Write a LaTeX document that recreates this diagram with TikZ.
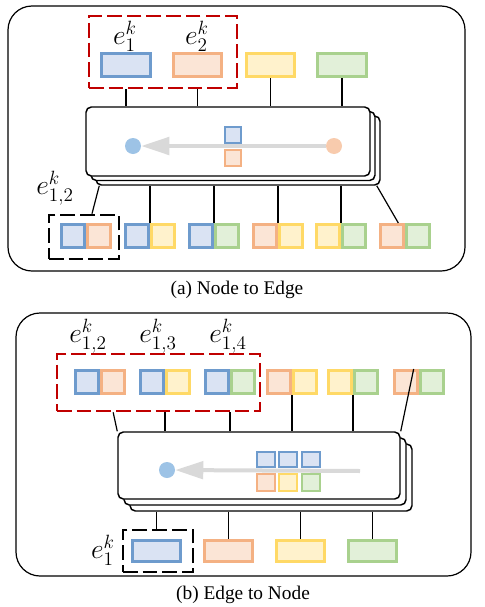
\documentclass[tikz,border=0pt]{standalone}
\usepackage{fontspec}
\setmainfont{Liberation Serif}
\usetikzlibrary{arrows.meta,calc}
\definecolor{bbd}{HTML}{6E9BCD}\definecolor{bfl}{HTML}{DAE3F3}
\definecolor{obd}{HTML}{F4B183}\definecolor{ofl}{HTML}{FBE5D6}
\definecolor{ybd}{HTML}{FFD966}\definecolor{yfl}{HTML}{FFF2CC}
\definecolor{gbd}{HTML}{A9D18E}\definecolor{gfl}{HTML}{E2F0D9}
\definecolor{dred}{HTML}{C00000}
\definecolor{dotb}{HTML}{9DC3E6}\definecolor{doto}{HTML}{F8CBAD}
\definecolor{arrg}{HTML}{D9D9D9}
\tikzset{
 cbox/.style={draw=#1bd, fill=#1fl, line width=2.1pt, inner sep=0pt},
 wide/.style={cbox=#1, minimum width=36.2pt, minimum height=17.4pt},
 sq/.style={cbox=#1, minimum width=17.4pt, minimum height=17.4pt},
 ssq/.style={draw=#1bd, fill=#1fl, line width=1.6pt, inner sep=0pt, minimum width=12.4pt, minimum height=11.6pt},
 modbox/.style={draw, line width=1.1pt, rounded corners=4pt, fill=white, inner sep=0pt},
 frame/.style={draw, line width=0.9pt, rounded corners=18pt},
 reddash/.style={draw=dred, line width=2pt, dash pattern=on 11pt off 3.8pt, inner sep=0pt},
 blkdash/.style={draw=black, line width=2pt, dash pattern=on 11pt off 3.8pt, inner sep=0pt},
 conn/.style={draw, line width=0.9pt},
 dot/.style={circle, fill=#1, inner sep=0pt, minimum size=12pt},
 garrow/.style={draw=arrg, line width=3pt, -{Triangle[length=21pt, width=13pt]}},
 lab/.style={font=\fontsize{20}{24}\selectfont, inner sep=0pt},
 captext/.style={font=\fontsize{14.5}{17}\selectfont, inner sep=0pt},
}
\begin{document}
\begin{tikzpicture}[x=0.75pt,y=-0.75pt]
\useasboundingbox (0,0) rectangle (485,607);
%% ---------------- (a) Node to Edge ----------------
\draw[frame] (8,6) rectangle (465,271);
\node[reddash, minimum width=111pt, minimum height=54pt] (rA) at (163,52) {};
\node[lab] (lA1) at (125,36) {$e_1^k$};
\node[lab] (lA2) at (197,36) {$e_2^k$};
\node[wide=b] (tA1) at (126,65) {};
\node[wide=o] (tA2) at (197.5,65) {};
\node[wide=y] (tA3) at (270.5,65) {};
\node[wide=g] (tA4) at (342,65) {};
% module stack
\node[modbox, minimum width=213pt, minimum height=51.75pt] (mA2) at (238,150.5) {};
\node[modbox, minimum width=213pt, minimum height=51.75pt] (mA1) at (233,146) {};
\node[modbox, minimum width=213pt, minimum height=51.75pt] (mA) at (228,141.5) {};
\draw[conn] (tA1.south |- rA.south) -- (tA1.south |- mA.north);
\draw[conn] (tA2.south |- rA.south) -- (tA2.south |- mA.north);
\draw[conn] (tA3.south) -- (tA3.south |- mA.north);
\draw[conn] (tA4.south) -- (tA4.south |- mA.north);
\node[dot=dotb] (bA) at (133,146) {};
\node[dot=doto] (oA) at (334,146) {};
\draw[garrow] (oA.west) -- (bA);
\node[ssq=b] (sA1) at (233,135) {};
\node[ssq=o] (sA2) at (233,158) {};
% edge pairs
\foreach \i/\s/\l/\r in {1/60/b/o,2/124/b/y,3/188/b/g,4/252/o/y,5/315/y/g,6/379/o/g}{
  \node[sq=\l] (pA\i l) at (\s+13,236) {};
  \node[sq=\r] (pA\i r) at (\s+39,236) {};
  \coordinate (jA\i) at (\s+26,222.5);
}
\node[blkdash, minimum width=52.5pt, minimum height=33pt] (kA) at (84,237) {};
\node[lab] (lA3) at (55,188) {$e_{1,2}^k$};
\draw[conn] ([xshift=3pt]mA2.south west) -- ([xshift=6pt]kA.north);
\foreach \i in {2,3,4,5}{\draw[conn] (jA\i) -- (jA\i |- mA2.south);}
\draw[conn] ([xshift=-3pt]mA2.south east) -- ([xshift=-5pt]pA6l.north east);
\node[captext] (cA) at (237,290) {(a) Node to Edge};
%% ---------------- (b) Edge to Node ----------------
\draw[frame] (16,313) rectangle (471,576);
\node[reddash, minimum width=152.25pt, minimum height=42.75pt] (rB) at (158.5,382.5) {};
\node[lab] (lB1) at (88,336) {$e_{1,2}^k$};
\node[lab] (lB2) at (158,336) {$e_{1,3}^k$};
\node[lab] (lB3) at (228,336) {$e_{1,4}^k$};
\foreach \i/\s/\l/\r in {1/74/b/o,2/139/b/y,3/204/b/g,4/266/o/y,5/327/y/g,6/393/o/g}{
  \node[sq=\l] (pB\i l) at (\s+13,382) {};
  \node[sq=\r] (pB\i r) at (\s+39,382) {};
  \coordinate (jB\i) at (\s+26,395);
}
\node[modbox, minimum width=211.5pt, minimum height=50.25pt] (mB2) at (271,477.5) {};
\node[modbox, minimum width=211.5pt, minimum height=50.25pt] (mB1) at (265,471.5) {};
\node[modbox, minimum width=211.5pt, minimum height=50.25pt] (mB) at (259,465.5) {};
\draw[conn] ([xshift=-34pt]rB.south) -- (mB.north west);
\draw[conn] (jB2 |- rB.south) -- (jB2 |- mB.north);
\draw[conn] (jB3 |- rB.south) -- (jB3 |- mB.north);
\draw[conn] (jB4) -- (jB4 |- mB.north);
\draw[conn] (jB5) -- (jB5 |- mB.north);
\draw[conn] ([xshift=-4pt]pB6l.north east) -- (mB.north east);
\node[dot=dotb] (bB) at (167,470) {};
\coordinate (aB) at (360,471);
\draw[garrow] (aB) -- (bB);
\foreach \i/\x/\c in {1/266/b,2/288/b,3/311/b}{\node[ssq=\c, minimum width=13.3pt, minimum height=11.8pt] (uB\i) at (\x,459.5) {};}
\foreach \i/\x/\c in {1/266/o,2/288/y,3/311/g}{\node[ssq=\c, minimum width=13.3pt, minimum height=12.6pt] (vB\i) at (\x,482.5) {};}
\node[wide=b, minimum height=16pt] (nB1) at (156.5,551) {};
\node[wide=o, minimum height=16pt] (nB2) at (228.5,551) {};
\node[wide=y, minimum height=16pt] (nB3) at (300.5,551) {};
\node[wide=g, minimum height=16pt] (nB4) at (372.5,551) {};
\node[blkdash, minimum width=52.5pt, minimum height=31.5pt] (kB) at (158,551) {};
\node[lab] (lB4) at (103,550) {$e_1^k$};
\draw[conn] (nB1.north |- kB.north) -- (nB1.north |- mB2.south);
\foreach \i in {2,3,4}{\draw[conn] (nB\i.north) -- (nB\i.north |- mB2.south);}
\node[captext] (cB) at (243,595) {(b) Edge to Node};
\end{tikzpicture}
\end{document}
